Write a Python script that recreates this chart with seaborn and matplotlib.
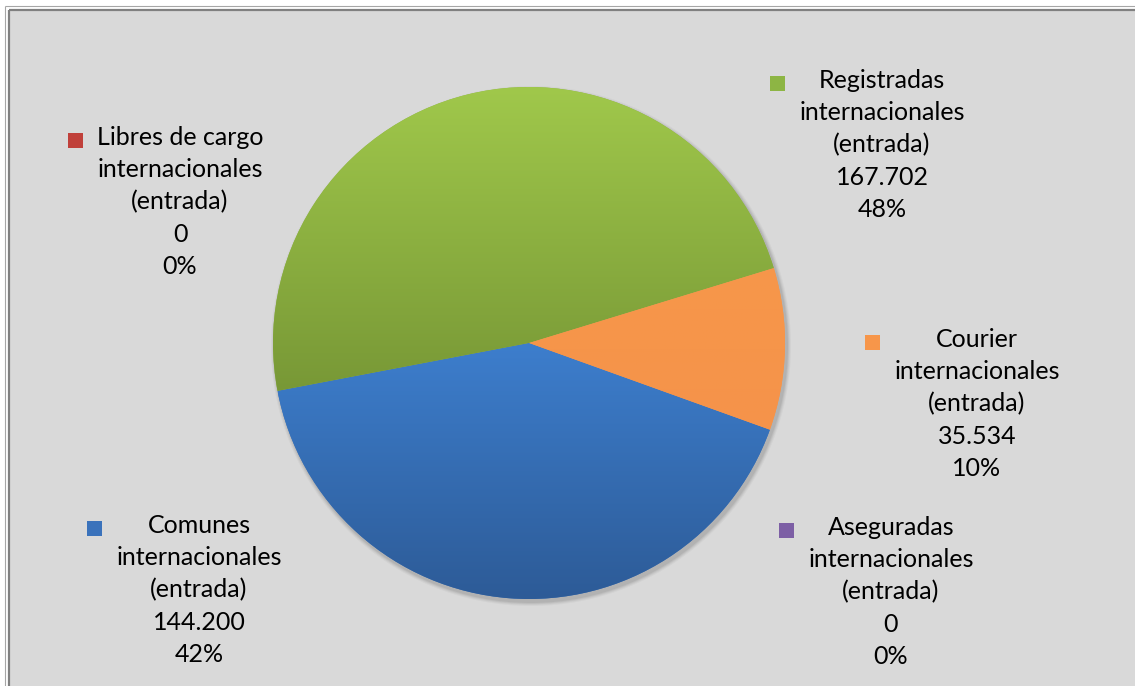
import numpy as np
import matplotlib
matplotlib.use("Agg")
import matplotlib.pyplot as plt
import seaborn as sns
from matplotlib.colors import to_rgb
from matplotlib.patches import Rectangle, Circle

# data (clockwise, Comunes first)
CATEGORIES = [
    "Comunes\ninternacionales\n(entrada)",
    "Libres de cargo\ninternacionales\n(entrada)",
    "Registradas\ninternacionales\n(entrada)",
    "Courier\ninternacionales\n(entrada)",
    "Aseguradas\ninternacionales\n(entrada)",
]
VALUES = [144200, 0, 167702, 35534, 0]

# slice colours (top / bottom of the gradient) and legend key colours
TOP_COLORS    = ["#3d7ecd", "#d24a40", "#a0c84b", "#f7974a", "#8a6cb0"]
BOTTOM_COLORS = ["#2d5b97", "#aa3431", "#789836", "#f5934a", "#6d5090"]
KEY_COLORS    = ["#3a72bb", "#c0403a", "#8db544", "#f7964a", "#7d5fa5"]

# label block centres, pixels from the top-left corner
LABEL_POS = [(199, 590), (180, 202), (882, 145), (977, 404), (891, 592)]

W, H = 1135, 686
PIE_CENTER = (529, 343)
PIE_RADIUS = 256
START_ANGLE = -19.8

sns.set_style("white")
plt.rcParams["font.family"] = ["Lato", "DejaVu Sans"]

fig = plt.figure(figsize=(W / 100, H / 100), dpi=100)
fig.patch.set_facecolor("white")
ax = fig.add_axes([0, 0, 1, 1])

# chart area frame
ax.add_patch(Rectangle((10, 0), W - 10, H - 11, facecolor="#d9d9d9", edgecolor="none", zorder=0))
ax.plot([5, W], [H - 6, H - 6], color="#a6a6a6", lw=0.8, zorder=1, solid_capstyle="butt")
ax.plot([5, 5], [0, H - 6], color="#a6a6a6", lw=0.8, zorder=1, solid_capstyle="butt")
ax.plot([9, W], [H - 10, H - 10], color="#808080", lw=1.6, zorder=1, solid_capstyle="butt")
ax.plot([9, 9], [0, H - 10], color="#808080", lw=1.6, zorder=1, solid_capstyle="butt")

cx, cy = PIE_CENTER[0], H - PIE_CENTER[1]

# soft shadow
for k, a in [(4, 0.03), (3, 0.04), (2, 0.05), (1, 0.06)]:
    ax.add_patch(Circle((cx + 2, cy - 3), PIE_RADIUS + k, facecolor="black",
                        edgecolor="none", alpha=a, zorder=1.5))

wedges, _ = ax.pie(VALUES, colors=sns.color_palette(KEY_COLORS), startangle=START_ANGLE,
                   counterclock=False, center=(cx, cy), radius=PIE_RADIUS,
                   wedgeprops=dict(linewidth=0, edgecolor="none", zorder=2))

for w, v, top, bot in zip(wedges, VALUES, TOP_COLORS, BOTTOM_COLORS):
    if v == 0:
        continue
    ext = w.get_path().get_extents()
    t = np.linspace(0, 1, 256)[:, None, None]
    grad = np.array(to_rgb(bot))[None, None, :] * (1 - t) + np.array(to_rgb(top))[None, None, :] * t
    im = ax.imshow(grad, extent=(ext.x0, ext.x1, ext.y0, ext.y1), origin="lower",
                   aspect="auto", interpolation="bilinear", zorder=2.1)
    im.set_clip_path(w)

ax.set_xlim(0, W)
ax.set_ylim(0, H)
ax.set_aspect("auto")
ax.axis("off")

total = sum(VALUES)
texts = []
for name, v, (lx, ly) in zip(CATEGORIES, VALUES, LABEL_POS):
    pct = round(v / total * 100)
    label = f"{name}\n{v:,}".replace(",", ".") + f"\n{pct}%"
    t = ax.text(lx, H - ly, label, ha="center", va="center", multialignment="center",
                fontsize=18, linespacing=1.48, color="black", zorder=3)
    texts.append(t)

fig.canvas.draw()
renderer = fig.canvas.get_renderer()
for t, col in zip(texts, KEY_COLORS):
    bb = t.get_window_extent(renderer)
    ax.add_patch(Rectangle((bb.x0 - 14 - 15, bb.y1 - 14 - 7.5), 15, 15,
                           facecolor=col, edgecolor="none", zorder=3))

fig.savefig("out.png", dpi=100)
plt.close(fig)
